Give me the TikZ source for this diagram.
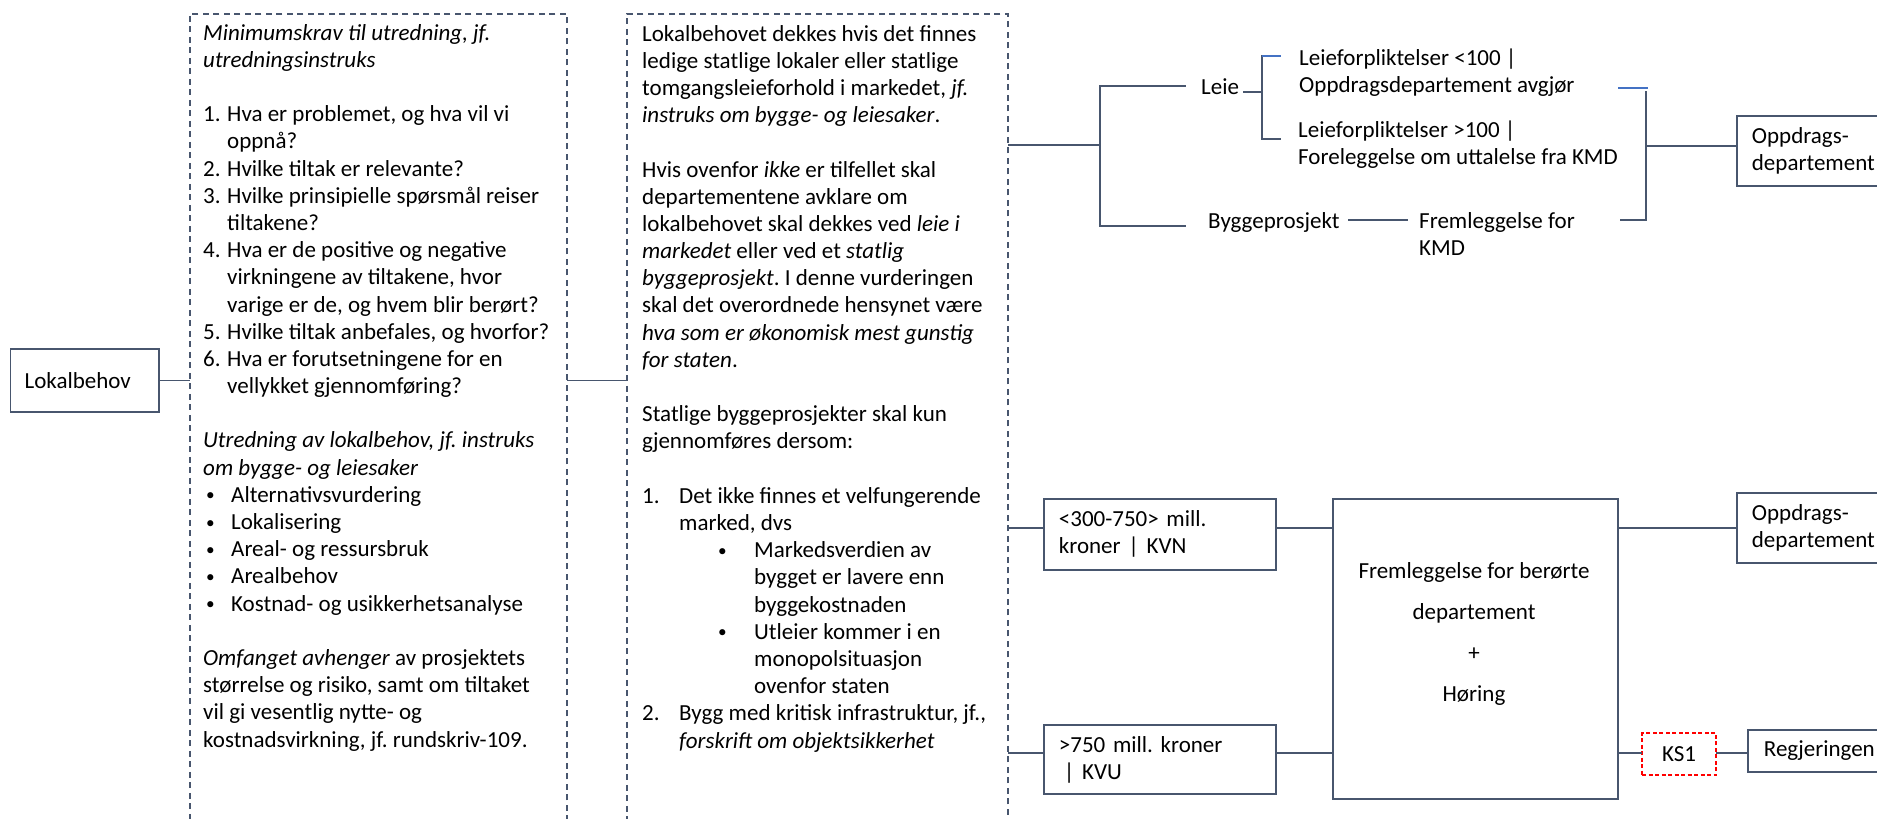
\documentclass[tikz,border=0pt]{standalone}
\usepackage{fontspec}
\setmainfont{Carlito}
\usetikzlibrary{calc}
\frenchspacing
\definecolor{linec}{RGB}{72,86,110}
\definecolor{accent}{RGB}{68,114,196}
\definecolor{ksred}{RGB}{255,0,0}
% one paragraph = a top-aligned column of lines
\newcommand\rows[1]{\begin{tabular}[t]{@{}l@{}}#1\end{tabular}}
\newcommand\crows[1]{\begin{tabular}[t]{@{}c@{}}#1\end{tabular}}
% fixed-width label (list number or bullet) in front of a line
\newcommand\itemno[2][24pt]{\makebox[#1][l]{#2}}
\newcommand\smallbullet{\raisebox{1.5pt}{\scalebox{0.75}{•}}}
\tikzset{
  conn/.style={draw=linec, line width=1.8pt, line cap=rect},
  blueline/.style={draw=accent, line width=1.8pt},
  box/.style={draw=linec, line width=1.8pt, rectangle, inner sep=0pt,
              font=\fontsize{23}{27}\selectfont},
  dbox/.style={draw=linec, line width=1.5pt, dash pattern=on 6pt off 4.5pt,
               rectangle, inner sep=0pt},
  ks/.style={draw=ksred, line width=1.5pt, dash pattern=on 4pt off 2.5pt,
             rectangle, inner sep=0pt, font=\fontsize{23}{27}\selectfont},
  body/.style={inner sep=0pt, font=\fontsize{23}{27.2}\selectfont},
  lbl/.style={inner sep=0pt, font=\fontsize{23}{27}\selectfont},
}
\begin{document}
\begin{tikzpicture}[x=1pt, y=-1pt]
\useasboundingbox (0,0) rectangle (1877,819);
\clip (0,0) rectangle (1877,819);

% ---------- left part ----------
\node[box, anchor=west, minimum width=148.5pt, minimum height=63pt,
      text width=120pt, inner xsep=14pt, align=left] (lok) at (9.5,380.5) {Lokalbehov};

\node[dbox, anchor=north west, minimum width=377pt, minimum height=840pt] (box1) at (189,13) {};
\node[dbox, anchor=north west, minimum width=381pt, minimum height=840pt] (box2) at (626,13) {};

\node[body, anchor=base west] (req) at (203,40) {\rows{%
\textit{Minimumskrav til utredning, jf.}\\
\textit{utredningsinstruks}\\
\\
\itemno{1.}Hva er problemet, og hva vil vi\\
\itemno{}oppnå?\\
\itemno{2.}Hvilke tiltak er relevante?\\
\itemno{3.}Hvilke prinsipielle spørsmål reiser\\
\itemno{}tiltakene?\\
\itemno{4.}Hva er de positive og negative\\
\itemno{}virkningene av tiltakene, hvor\\
\itemno{}varige er de, og hvem blir berørt?\\
\itemno{5.}Hvilke tiltak anbefales, og hvorfor?\\
\itemno{6.}Hva er forutsetningene for en\\
\itemno{}vellykket gjennomføring?\\
\\
\textit{Utredning av lokalbehov, jf. instruks}\\
\textit{om bygge- og leiesaker}\\
\itemno[28pt]{\hspace{3pt}\smallbullet}Alternativsvurdering\\
\itemno[28pt]{\hspace{3pt}\smallbullet}Lokalisering\\
\itemno[28pt]{\hspace{3pt}\smallbullet}Areal- og ressursbruk\\
\itemno[28pt]{\hspace{3pt}\smallbullet}Arealbehov\\
\itemno[28pt]{\hspace{3pt}\smallbullet}Kostnad- og usikkerhetsanalyse\\
\\
\textit{Omfanget avhenger} av prosjektets\\
størrelse og risiko, samt om tiltaket\\
vil gi vesentlig nytte- og\\
kostnadsvirkning, jf. rundskriv-109.}};

\node[body, anchor=base west] (need) at (642,41) {\rows{%
Lokalbehovet dekkes hvis det finnes\\
ledige statlige lokaler eller statlige\\
tomgangsleieforhold i markedet, \textit{jf.}\\
\textit{instruks om bygge- og leiesaker}.\\
\\
Hvis ovenfor \textit{ikke} er tilfellet skal\\
departementene avklare om\\
lokalbehovet skal dekkes ved \textit{leie i}\\
\textit{markedet} eller ved et \textit{statlig}\\
\textit{byggeprosjekt}. I denne vurderingen\\
skal det overordnede hensynet være\\
\textit{hva som er økonomisk mest gunstig}\\
\textit{for staten}.\\
\\
Statlige byggeprosjekter skal kun\\
gjennomføres dersom:\\
\\
\itemno[37pt]{1.}Det ikke finnes et velfungerende\\
\hspace*{37pt}marked, dvs\\
\hspace*{76pt}\itemno[36pt]{\smallbullet}Markedsverdien av\\
\hspace*{112pt}bygget er lavere enn\\
\hspace*{112pt}byggekostnaden\\
\hspace*{76pt}\itemno[36pt]{\smallbullet}Utleier kommer i en\\
\hspace*{112pt}monopolsituasjon\\
\hspace*{112pt}ovenfor staten\\
\itemno[37pt]{2.}Bygg med kritisk infrastruktur, jf.,\\
\hspace*{37pt}\textit{forskrift om objektsikkerhet}}};

% ---------- upper right: leie / byggeprosjekt ----------
\node[lbl, anchor=base west] (leie) at (1201,94) {Leie};
\node[lbl, anchor=base west] (l1) at (1299,65) {\rows{Leieforpliktelser <100 |\\Oppdragsdepartement avgjør}};
\node[lbl, anchor=base west] (l2) at (1298,137) {\rows{Leieforpliktelser >100 |\\Foreleggelse om uttalelse fra KMD}};
\node[lbl, anchor=base west] (bygg) at (1208,228) {Byggeprosjekt};
\node[lbl, anchor=base west] (frem) at (1419,228) {\rows{Fremleggelse for\\KMD}};
\node[box, anchor=west, minimum width=200pt, minimum height=70pt,
      text width=170pt, inner xsep=15pt, align=left] (opp1) at (1736,151) {Oppdrags-\\departement};

% ---------- lower right: KVN / KVU ----------
\node[box, anchor=north west, minimum width=232pt, minimum height=71pt,
      text width=202pt, inner xsep=15pt, align=left] (kvn) at (1043,498) {<300-750> mill.\\kroner | KVN};
\node[box, anchor=north west, minimum width=232pt, minimum height=69pt,
      text width=202pt, inner xsep=15pt, align=left] (kvu) at (1043,724) {>750 mill. kroner\\\hspace*{5pt}| KVU};
\node[box, anchor=north west, minimum width=285pt, minimum height=300pt] (big) at (1332,498) {};
\node[anchor=base, inner sep=0pt, font=\fontsize{23}{41}\selectfont] (bigtxt) at (1474,578)
  {\crows{Fremleggelse for berørte\\departement\\+\\Høring}};
\node[box, anchor=west, minimum width=200pt, minimum height=70pt,
      text width=170pt, inner xsep=15pt, align=left] (opp2) at (1736,528) {Oppdrags-\\departement};
\node[ks, minimum width=74pt, minimum height=42pt] (ks1) at (1679,754) {KS1};
\node[box, anchor=west, minimum width=200pt, minimum height=42pt,
      text width=170pt, inner xsep=16pt, align=left] (reg) at (1747,751) {Regjeringen};

% ---------- connectors ----------
\draw[conn] (lok.east) -- (lok.east -| box1.west);
\draw[conn] (box1.east |- lok.east) -- (box2.west |- lok.east);

\coordinate (j1) at (1100,145);
\coordinate (ja) at (1100,86);
\coordinate (jb) at (1100,226);
\draw[conn] (box2.east |- j1) -- (j1);
\draw[conn, shorten >=16pt] (jb) -- (ja) -- (ja -| leie.west);
\draw[conn, shorten >=23pt] (jb) -- (jb -| bygg.west);

\coordinate (lbm) at (1262,92);
\coordinate (lbt) at (1262,56);
\coordinate (lbb) at (1262,139);
\draw[conn, shorten <=5pt] (lbm -| leie.east) -- (lbm);
\draw[conn, shorten >=18pt] (lbt) -- (lbb) -- (lbb -| l2.west);
\draw[blueline, shorten >=18pt] (lbt) -- (lbt -| l1.west);

\coordinate (rbt) at (1646,92);
\coordinate (rbb) at (1646,220);
\coordinate (rbm) at (1646,146);
\coordinate (rbl) at (1618,88);
\draw[conn] (rbb) ++(-25,0) -- (rbb) -- (rbt);
\draw[blueline] (rbl) -- ++(30,0);
\draw[conn] (rbm) -- (rbm -| opp1.west);
\draw[conn, shorten <=9pt, shorten >=12pt] (bygg.east |- rbb) -- (frem.west |- rbb);

\coordinate (row1) at (0,528);
\coordinate (row2) at (0,753);
\draw[conn] (box2.east |- row1) -- (kvn.west |- row1);
\draw[conn] (kvn.east |- row1) -- (big.west |- row1);
\draw[conn] (big.east |- row1) -- (opp2.west |- row1);
\draw[conn] (box2.east |- row2) -- (kvu.west |- row2);
\draw[conn] (kvu.east |- row2) -- (big.west |- row2);
\draw[conn] (big.east |- row2) -- (ks1.west |- row2);
\draw[conn] (ks1.east |- row2) -- (reg.west |- row2);
\end{tikzpicture}
\end{document}
